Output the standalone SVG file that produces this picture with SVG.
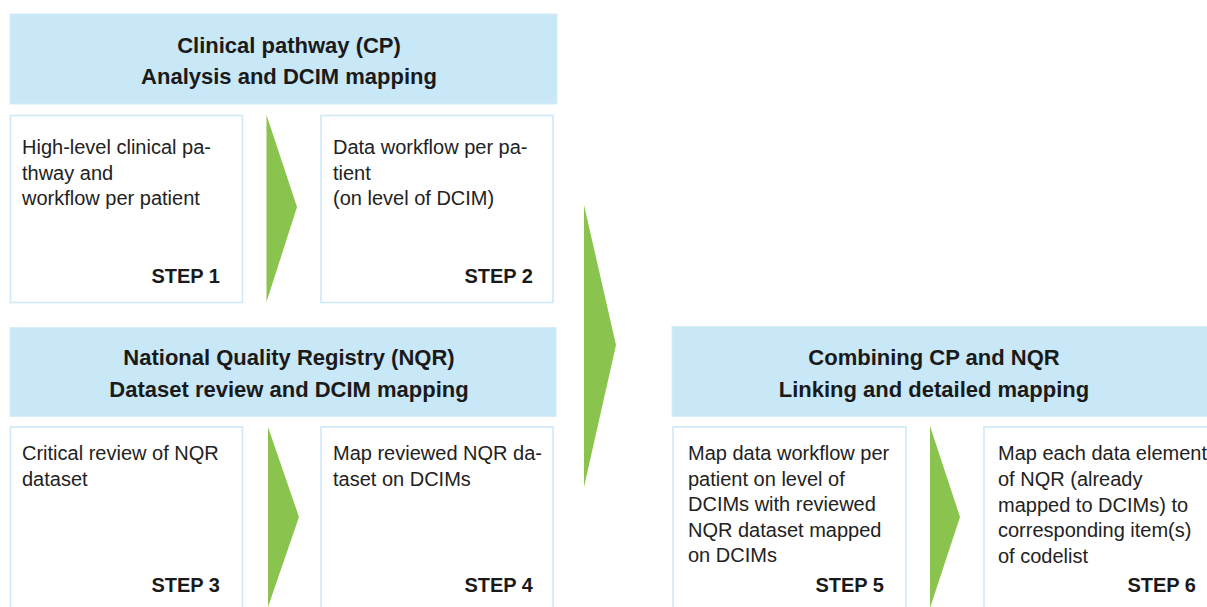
<svg xmlns="http://www.w3.org/2000/svg" width="1207" height="607" viewBox="0 0 1207 607">
<style>
.hdr{fill:#c8e7f7;stroke:#d4edf9;stroke-width:1}
.box{fill:#ffffff;stroke:#cfe9f8;stroke-width:1.6}
.arrow{fill:#8bc34f}
.ht{font-family:"Liberation Sans",Arial,sans-serif;font-weight:bold;font-size:22px;fill:#1a1a1a;text-anchor:middle}
.bt{font-family:"Liberation Sans",Arial,sans-serif;font-size:20px;fill:#222222}
.st{font-family:"Liberation Sans",Arial,sans-serif;font-weight:bold;font-size:20px;fill:#1a1a1a;text-anchor:end}
</style>
<rect width="1207" height="607" fill="#ffffff"/>
<g id="header-cp">
<rect class="hdr" x="10" y="14" width="547" height="90"/>
<text class="ht" x="289" y="53">Clinical pathway (CP)</text>
<text class="ht" x="289" y="84">Analysis and DCIM mapping</text>
</g>
<g id="step1">
<rect class="box" x="10.5" y="115.5" width="232" height="187"/>
<text class="bt" x="22" y="154">High-level clinical pa-</text>
<text class="bt" x="22" y="179.5">thway and</text>
<text class="bt" x="22" y="205">workflow per patient</text>
<text class="st" x="220" y="283">STEP 1</text>
</g>
<g id="step2">
<rect class="box" x="321" y="115.5" width="232" height="187"/>
<text class="bt" x="333" y="154">Data workflow per pa-</text>
<text class="bt" x="333" y="179.5">tient</text>
<text class="bt" x="333" y="205">(on level of DCIM)</text>
<text class="st" x="533" y="283">STEP 2</text>
</g>
<g id="header-nqr">
<rect class="hdr" x="10" y="327.5" width="546" height="89"/>
<text class="ht" x="289" y="365">National Quality Registry (NQR)</text>
<text class="ht" x="289" y="396.5">Dataset review and DCIM mapping</text>
</g>
<g id="step3">
<rect class="box" x="10.5" y="427" width="232" height="190"/>
<text class="bt" x="22" y="460">Critical review of NQR</text>
<text class="bt" x="22" y="485.5">dataset</text>
<text class="st" x="220" y="592">STEP 3</text>
</g>
<g id="step4">
<rect class="box" x="321" y="427" width="232" height="190"/>
<text class="bt" x="333" y="460">Map reviewed NQR da-</text>
<text class="bt" x="333" y="485.5">taset on DCIMs</text>
<text class="st" x="533" y="592">STEP 4</text>
</g>
<g id="header-combined">
<rect class="hdr" x="672" y="326.5" width="540" height="90"/>
<text class="ht" x="934" y="365">Combining CP and NQR</text>
<text class="ht" x="934" y="396.5">Linking and detailed mapping</text>
</g>
<g id="step5">
<rect class="box" x="673" y="427" width="233" height="190"/>
<text class="bt" x="688" y="460">Map data workflow per</text>
<text class="bt" x="688" y="485.5">patient on level of</text>
<text class="bt" x="688" y="511">DCIMs with reviewed</text>
<text class="bt" x="688" y="536.5">NQR dataset mapped</text>
<text class="bt" x="688" y="562">on DCIMs</text>
<text class="st" x="884" y="592">STEP 5</text>
</g>
<g id="step6">
<rect class="box" x="984" y="427" width="240" height="190"/>
<text class="bt" x="998" y="460">Map each data element</text>
<text class="bt" x="998" y="486">of NQR (already</text>
<text class="bt" x="998" y="511.5">mapped to DCIMs) to</text>
<text class="bt" x="998" y="537">corresponding item(s)</text>
<text class="bt" x="998" y="563">of codelist</text>
<text class="st" x="1196" y="592">STEP 6</text>
</g>
<g id="connectors">
<polygon class="arrow" points="266.5,115 297,207 266.5,302"/>
<polygon class="arrow" points="268,427 299,517 268,607"/>
<polygon class="arrow" points="584,205 616,345 584,487"/>
<polygon class="arrow" points="930,426 960,517 930,608"/>
</g>
</svg>
